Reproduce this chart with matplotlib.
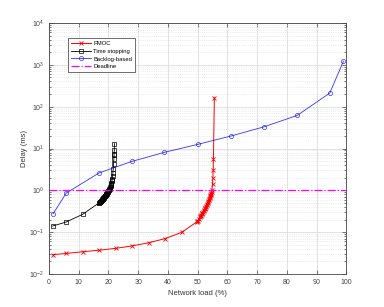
import numpy as np
import matplotlib
matplotlib.use('Agg')
import matplotlib.pyplot as plt
from matplotlib.ticker import LogLocator, NullFormatter

# data
pmoc_load = [1.2, 5.8, 11.3, 16.8, 22.4, 28.0, 33.6, 39.0, 44.6, 49.6, 49.9, 50.1, 50.4, 50.7,
             50.9, 51.0, 51.2, 51.3, 51.5, 51.6, 51.8, 52.0, 52.1, 52.3, 52.4, 52.6, 52.7,
             52.9, 53.0, 53.2, 53.3, 53.5, 53.6, 53.8, 53.9, 54.0, 54.1, 54.2, 54.3, 54.4,
             54.5, 54.6, 54.7, 54.8, 55.0, 55.1, 55.2, 55.3, 55.6]
pmoc_delay = [0.029, 0.031, 0.034, 0.037, 0.041, 0.047, 0.056, 0.070, 0.099, 0.174, 0.18, 0.19,
              0.21, 0.23, 0.24, 0.25, 0.26, 0.27, 0.28, 0.29, 0.30, 0.32, 0.33, 0.35, 0.37,
              0.38, 0.40, 0.42, 0.44, 0.46, 0.49, 0.52, 0.56, 0.60, 0.63, 0.66, 0.69, 0.72,
              0.76, 0.79, 0.83, 0.87, 0.92, 1.04, 1.45, 1.97, 3.0, 5.7, 165.0]

ts_load = [1.2, 5.8, 11.3, 16.8, 16.9, 17.0, 17.1, 17.2, 17.3, 17.4, 17.5, 17.6, 17.7, 17.8,
           17.9, 18.0, 18.1, 18.2, 18.3, 18.4, 18.5, 18.6, 18.7, 18.8, 18.9, 19.0, 19.1,
           19.2, 19.3, 19.4, 19.5, 19.6, 19.7, 19.8, 19.9, 20.0, 20.1, 20.2, 20.3, 20.4,
           20.5, 20.6, 20.7, 20.8, 20.9, 21.0, 21.1, 21.2, 21.3, 21.4, 21.5, 21.6, 21.7,
           21.8, 21.85, 21.9, 21.95, 22.0]
ts_delay = [0.14, 0.175, 0.267, 0.50, 0.507, 0.515, 0.522, 0.53, 0.54, 0.55, 0.56, 0.57, 0.582,
            0.595, 0.607, 0.62, 0.632, 0.645, 0.657, 0.67, 0.685, 0.70, 0.715, 0.73, 0.747,
            0.765, 0.782, 0.80, 0.82, 0.84, 0.86, 0.88, 0.905, 0.93, 0.955, 0.98, 1.01, 1.04,
            1.07, 1.10, 1.15, 1.20, 1.26, 1.32, 1.40, 1.50, 1.64, 1.76, 1.90, 2.20, 2.65,
            3.31, 4.19, 5.5, 6.9, 7.55, 9.4, 13.1]

bl_load = [1.4, 5.8, 16.8, 27.8, 38.8, 50.1, 61.2, 72.3, 83.5, 94.4, 99.0]
bl_delay = [0.277, 0.86, 2.6, 4.9, 8.1, 12.6, 19.9, 33.0, 62.0, 212.0, 1220.0]

deadline_load = [0, 100]
deadline_delay = [1, 1]

plt.rcParams['font.family'] = ['Liberation Sans', 'DejaVu Sans']

fig = plt.figure(figsize=(3.84, 3.07), dpi=100)
ax = fig.add_axes([0.1276, 0.1075, 0.7745, 0.8175])

ax.semilogy(pmoc_load, pmoc_delay, color='#ff0000', marker='x', ms=2.5, mew=0.6, lw=0.7,
            label='PMOC')
ax.semilogy(ts_load, ts_delay, color='black', marker='s', ms=2.5, mfc='none', mew=0.5, lw=0.6,
            label='Time stopping')
ax.semilogy(bl_load, bl_delay, color='#0000ff', marker='o', ms=3, mfc='none', mew=0.5, lw=0.6,
            alpha=0.8, label='Backlog-based')
ax.semilogy(deadline_load, deadline_delay, color='#ff00ff', ls='-.', lw=0.9, label='Deadline')

ax.set_xlim(0, 100)
ax.set_ylim(1e-2, 1e4)
ax.set_xticks(np.arange(0, 101, 10))
ax.yaxis.set_major_locator(LogLocator(base=10, numticks=10))
ax.yaxis.set_minor_locator(LogLocator(base=10, subs=np.arange(2, 10), numticks=20))
ax.yaxis.set_minor_formatter(NullFormatter())

ax.grid(True, which='major', color='#dddddd', lw=0.6)
ax.grid(True, which='minor', axis='y', color='#dddddd', ls=':', lw=0.5)
ax.set_axisbelow(True)

ax.tick_params(which='both', direction='in', top=True, right=True, labelsize=5,
               colors='#444444', width=0.5)
ax.tick_params(which='major', length=3)
ax.tick_params(which='minor', length=1.5)
for s in ax.spines.values():
    s.set_color('#444444')
    s.set_linewidth(0.6)

ax.set_xlabel('Network load (%)', fontsize=5.5, color='#333333', labelpad=3)
ax.set_ylabel('Delay (ms)', fontsize=5.5, color='#333333', labelpad=1)

leg = ax.legend(loc='upper left', bbox_to_anchor=(0.064, 0.94), borderaxespad=0, fontsize=4.2,
                frameon=True, fancybox=False, edgecolor='#333333', framealpha=1,
                handlelength=3.4, handletextpad=0.4, borderpad=0.5, labelspacing=0.45)
leg.get_frame().set_linewidth(0.5)

fig.savefig('out.png', dpi=100)
